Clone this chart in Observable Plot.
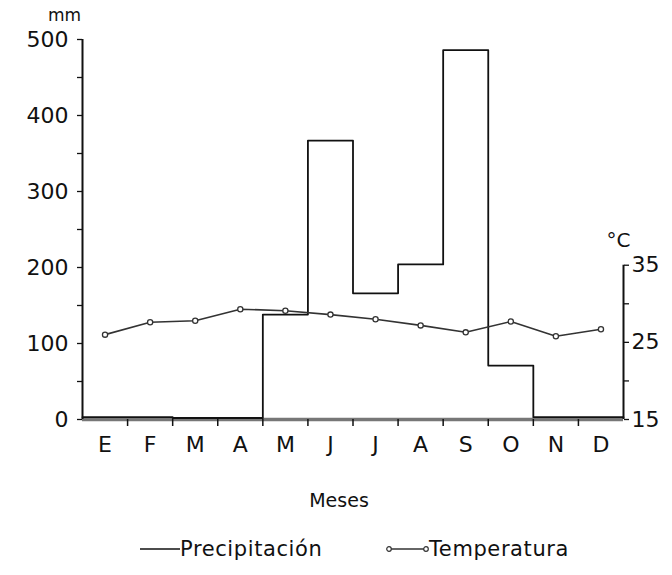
<!DOCTYPE html>
<html>
<head>
<meta charset="utf-8">
<script src="https://cdn.jsdelivr.net/npm/d3@7"></script>
<script src="https://cdn.jsdelivr.net/npm/@observablehq/plot@0.6"></script>
<style>
  html, body { margin: 0; padding: 0; background: #fff; }
  #chart { width: 672px; height: 525px; }
  #legend { width: 672px; height: 50px; position: relative;
            font-family: "DejaVu Sans", sans-serif; font-size: 21px; color: #111; }
  #legend .item { position: absolute; top: 12px; display: flex; align-items: center; letter-spacing: 0.6px; }
  #legend svg { display: block; }
</style>
</head>
<body>
<div id="chart"></div>
<div id="legend"></div>
<script>
// ---- data ----
const months = ["E","F","M","A","M","J","J","A","S","O","N","D"];
const precipitacion = [3, 3, 2, 2, 138, 367, 166, 204, 486, 71, 3, 3];   // mm
const temperatura = [26.0, 27.6, 27.8, 29.3, 29.1, 28.6, 28.0, 27.2, 26.3, 27.7, 25.8, 26.7]; // °C
const mmTicks = [0, 50, 100, 150, 200, 250, 300, 350, 400, 450, 500];
const mmLabels = [0, 100, 200, 300, 400, 500];
const tempTicks = [15, 20, 25, 30, 35];
const tempLabels = [15, 25, 35];
const T0 = 15;      // °C at the 0 mm baseline
const K = 10.15;    // mm per °C on the shared vertical scale

const toMM = t => (t - T0) * K;

const stepData = months.map((m, i) => ({x: i, y: precipitacion[i]}))
  .concat([{x: months.length, y: precipitacion[months.length - 1]}]);
const tempData = months.map((m, i) => ({x: i + 0.5, t: temperatura[i]}));
const boundaries = d3.range(1, months.length);
const centers = months.map((m, i) => i + 0.5);

const font = "DejaVu Sans, sans-serif";

const chart = Plot.plot({
  width: 672,
  height: 525,
  marginLeft: 82,
  marginRight: 49,
  marginTop: 39,
  marginBottom: 106,
  x: {domain: [0, 12], axis: null},
  y: {domain: [0, 500], axis: null},
  style: {fontFamily: font, color: "#111", background: "#fff", overflow: "visible"},
  marks: [
    // baseline (thick grey)
    Plot.ruleY([0], {x1: 0, x2: 12, stroke: "#777", strokeWidth: 3.5}),
    // precipitation outline
    Plot.line(stepData, {x: "x", y: "y", curve: "step-after", stroke: "#111", strokeWidth: 1.8}),
    // axis lines
    Plot.ruleX([0], {y1: 0, y2: 500, stroke: "#111", strokeWidth: 2}),
    Plot.ruleX([12], {y1: 0, y2: toMM(35), stroke: "#111", strokeWidth: 2}),
    // left mm axis
    Plot.axisY(mmTicks, {
      anchor: "left", label: null, tickSize: 5, tickPadding: 9, fontSize: 22, strokeWidth: 1.3,
      tickFormat: d => mmLabels.includes(d) ? String(d) : ""
    }),
    // right °C axis
    Plot.axisY(tempTicks.map(toMM), {
      anchor: "right", label: null, tickSize: 5, tickPadding: 3, fontSize: 22, strokeWidth: 1.3,
      tickFormat: d => { const t = Math.round(d / K + T0); return tempLabels.includes(t) ? String(t) : ""; }
    }),
    // x ticks at month boundaries
    Plot.axisX(boundaries, {anchor: "bottom", label: null, tickSize: 7, strokeWidth: 1.5, tickFormat: () => ""}),
    // month labels
    Plot.axisX(centers, {
      anchor: "bottom", label: null, tickSize: 0, tickPadding: 17, fontSize: 22,
      tickFormat: d => months[Math.round(d - 0.5)]
    }),
    // temperature
    Plot.line(tempData, {x: "x", y: d => toMM(d.t), stroke: "#333", strokeWidth: 1.6}),
    Plot.dot(tempData, {x: "x", y: d => toMM(d.t), r: 2.6, stroke: "#333", fill: "#fff", strokeWidth: 1.3}),
    // unit labels and axis title
    Plot.text(["mm"], {frameAnchor: "top-left", dx: -18, dy: -24, fontSize: 17, fill: "#111",
      textAnchor: "middle", lineAnchor: "middle"}),
    Plot.text(["°C"], {x: () => 12, y: () => toMM(35), dx: -5, dy: -25, fontSize: 20, fill: "#111"}),
    Plot.text(["Meses"], {frameAnchor: "bottom", dx: -14, dy: 81, fontSize: 19, fill: "#111",
      lineAnchor: "middle", style: "letter-spacing:2px"})
  ]
});
document.getElementById("chart").appendChild(chart);

// legend
const legend = document.getElementById("legend");
legend.innerHTML = `
  <div class="item" style="left:140px">
    <svg width="40" height="12"><line x1="0" y1="6" x2="40" y2="6" stroke="#111" stroke-width="1.6"/></svg>
    <span>Precipitación</span>
  </div>
  <div class="item" style="left:386px">
    <svg width="43" height="12"><line x1="3" y1="6" x2="40" y2="6" stroke="#333" stroke-width="1.6"/>
      <circle cx="3" cy="6" r="2.3" fill="#fff" stroke="#333" stroke-width="1.2"/>
      <circle cx="40" cy="6" r="2.3" fill="#fff" stroke="#333" stroke-width="1.2"/></svg>
    <span>Temperatura</span>
  </div>`;
</script>
</body>
</html>
